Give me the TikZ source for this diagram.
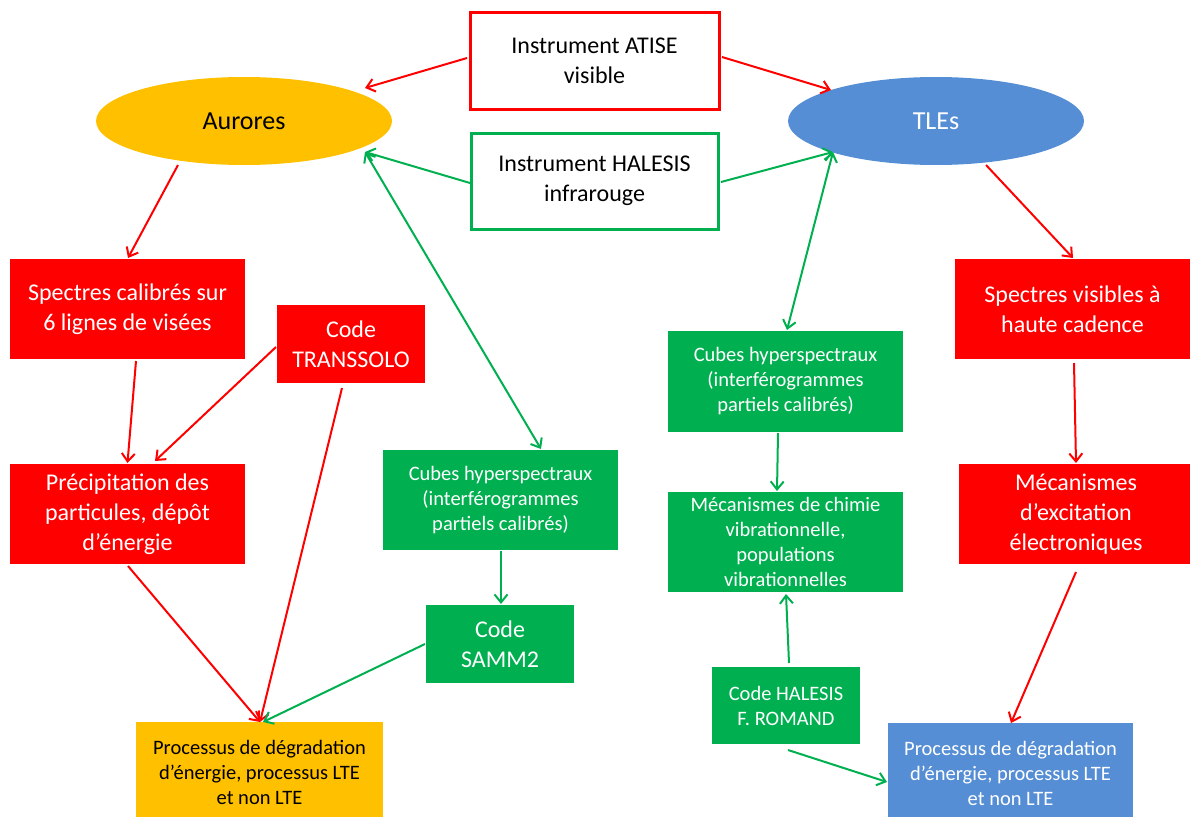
\documentclass[tikz,border=0pt]{standalone}
\usepackage{fontspec}
\setmainfont{Carlito}
\usetikzlibrary{shapes.geometric,arrows.meta,calc}
\definecolor{cred}{HTML}{FF0000}
\definecolor{cgreen}{HTML}{00B050}
\definecolor{corange}{HTML}{FFC000}
\definecolor{cblue}{HTML}{558ED5}
\tikzset{
  big/.style={font=\fontsize{24}{30}\selectfont},
  small/.style={font=\fontsize{20.5}{25}\selectfont},
  boxn/.style={rectangle, inner sep=0pt, outer sep=0pt, align=center},
  redbox/.style={boxn, fill=cred, text=white, big},
  greenbox/.style={boxn, fill=cgreen, text=white},
  instr/.style={boxn, fill=white, line width=3pt, big},
  oval/.style={ellipse, inner sep=0pt, outer sep=0pt, minimum width=296pt, minimum height=88pt, font=\fontsize{26}{30}\selectfont},
  arr/.style={line width=2pt, -{Straight Barb[length=8pt,width=13pt]}},
  barr/.style={line width=2pt, {Straight Barb[length=8pt,width=13pt]}-{Straight Barb[length=8pt,width=13pt]}},
}
\begin{document}
\begin{tikzpicture}[x=1pt,y=-1pt]
\useasboundingbox (0,0) rectangle (1190,816);
% top instruments
\node[instr, draw=cred, minimum width=249pt, minimum height=96pt] (atise) at (594.5,61) {Instrument ATISE\\visible};
\node[instr, draw=cgreen, minimum width=247pt, minimum height=96pt] (halinst) at (594.5,181) {Instrument HALESIS\\infrarouge};
% ovals
\node[oval, fill=corange, text=black] (aur) at (244,121) {Aurores};
\node[oval, fill=cblue, text=white] (tle) at (936,121) {TLEs};
% left side
\node[redbox, minimum width=235pt, minimum height=100pt] (spc) at (127.5,309) {Spectres calibrés sur\\6 lignes de visées};
\node[redbox, minimum width=148pt, minimum height=78pt] (trans) at (351,344) {Code\\TRANSSOLO};
\node[redbox, minimum width=235pt, minimum height=100pt] (prec) at (127.5,514) {Précipitation des\\particules, dépôt\\d’énergie};
\node[greenbox, small, minimum width=235pt, minimum height=100pt] (cubl) at (500.5,500) {Cubes hyperspectraux\\(interférogrammes\\partiels calibrés)};
\node[greenbox, big, minimum width=148pt, minimum height=78pt] (samm) at (500,644) {Code\\SAMM2};
\node[boxn, fill=corange, text=black, small, minimum width=247pt, minimum height=100pt] (procl) at (259.5,772) {Processus de dégradation\\d’énergie, processus LTE\\et non LTE};
% right side
\node[greenbox, small, minimum width=235pt, minimum height=101pt] (cubr) at (785.5,381.5) {Cubes hyperspectraux\\(interférogrammes\\partiels calibrés)};
\node[greenbox, small, minimum width=235pt, minimum height=100pt] (mec) at (785.5,542) {Mécanismes de chimie\\vibrationnelle,\\populations\\vibrationnelles};
\node[redbox, minimum width=235pt, minimum height=100pt] (svis) at (1072.5,309) {Spectres visibles à\\haute cadence};
\node[redbox, minimum width=235pt, minimum height=100pt] (mexc) at (1076,514) {Mécanismes\\d’excitation\\électroniques};
\node[greenbox, small, minimum width=148pt, minimum height=77pt] (halcode) at (786,705.5) {Code HALESIS\\F. ROMAND};
\node[boxn, fill=cblue, text=white, small, minimum width=245pt, minimum height=100pt] (procr) at (1010.5,773) {Processus de dégradation\\d’énergie, processus LTE\\et non LTE};
% connectors
\draw[arr, cred] ($(atise.west)+(-3,-3)$) -- ($(aur.center)+(121,-33)$);
\draw[arr, cred] ($(atise.east)+(3,-4)$) -- ($(tle.center)+(-105,-31)$);
\draw[arr, cgreen] ($(halinst.west)+(-1,2)$) -- ($(aur.center)+(121,31)$);
\draw[arr, cgreen] ($(halinst.east)+(3,1)$) -- ($(tle.center)+(-103,31)$);
\draw[arr, cred] ($(aur.south)+(-66,0)$) -- ($(spc.north)+(0.5,-1)$);
\draw[arr, cred] ($(tle.south)+(50,0)$) -- ($(svis.north)+(0.5,-1)$);
\draw[barr, cgreen] ($(aur.center)+(121,31)$) -- ($(cubl.north)+(40.5,-1)$);
\draw[barr, cgreen] ($(tle.center)+(-103,31)$) -- ($(cubr.north)+(1.5,-1)$);
\draw[arr, cred] ($(spc.south)+(8.5,2)$) -- ($(prec.north)+(0,-1)$);
\draw[arr, cred] ($(trans.west)+(-1,3)$) -- ($(prec.north)+(27.5,-3)$);
\draw[arr, cred] ($(trans.south)+(-9,5)$) -- ($(procl.north)+(0.5,0)$);
\draw[arr, cred] ($(prec.south)+(0.5,2)$) -- ($(procl.north)+(0.5,0)$);
\draw[arr, cgreen] ($(cubl.south)+(0.5,1)$) -- ($(samm.north)+(1,-1)$);
\draw[arr, cgreen] ($(samm.west)+(-1,0)$) -- ($(procl.north)+(3.5,0)$);
\draw[arr, cred] ($(svis.south)+(1.5,4)$) -- ($(mexc.north)+(0,-1)$);
\draw[arr, cred] ($(mexc.south)+(0,8)$) -- ($(procr.north)+(0.5,0)$);
\draw[arr, cgreen] ($(cubr.south)+(-7.5,1)$) -- ($(mec.north)+(-8.5,-1)$);
\draw[arr, cgreen] ($(halcode.north)+(3,-4)$) -- ($(mec.south)+(0.5,2)$);
\draw[arr, cgreen] ($(halcode.south)+(2,6)$) -- ($(procr.west)+(-1,9)$);
\end{tikzpicture}
\end{document}
